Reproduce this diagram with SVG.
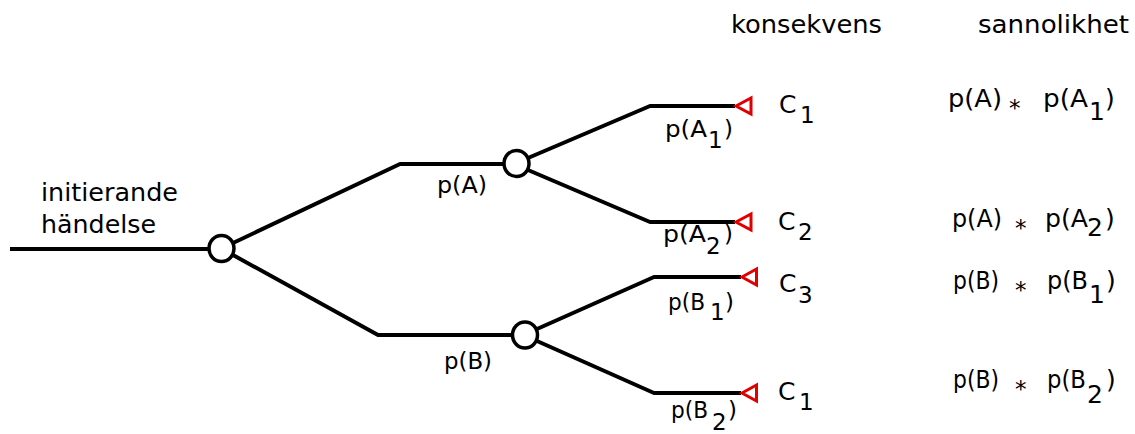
<svg xmlns="http://www.w3.org/2000/svg" width="1135" height="434" viewBox="0 0 1135 434">
  <style>
    .edge { fill: none; stroke: #000; stroke-width: 4; stroke-linejoin: round; }
    .node { fill: #fff; stroke: #000; stroke-width: 3.5; }
    .end { fill: #fff; stroke: #e00000; stroke-width: 3; stroke-linejoin: miter; }
    text { font-family: "DejaVu Sans", "Liberation Sans", sans-serif; fill: #000; }
    .hdr { font-size: 24px; }
    .lbl { font-size: 23px; }
    .res { font-size: 25px; }
    .cons { font-size: 25px; }
    .sub { font-size: 23px; }
    .star { font-size: 23px; }
  </style>

  <!-- column headings -->
  <g id="headings">
    <text class="hdr" x="731" y="33" textLength="151" lengthAdjust="spacingAndGlyphs">konsekvens</text>
    <text class="hdr" x="978" y="33" textLength="151" lengthAdjust="spacingAndGlyphs">sannolikhet</text>
  </g>

  <!-- branches of the event tree -->
  <g id="connectors">
    <polyline class="edge" points="10,249 209,249"/>
    <polyline class="edge" points="233,243 400,164 504,164"/>
    <polyline class="edge" points="233,255 378,335 512,335"/>
    <polyline class="edge" points="528,158 650,106 735,106"/>
    <polyline class="edge" points="528,170 650,222 735,222"/>
    <polyline class="edge" points="537,329 654,277 741,277"/>
    <polyline class="edge" points="537,341 654,393 741,393"/>
  </g>

  <!-- initiating event -->
  <g id="node-init">
    <text class="hdr" x="41" y="201" textLength="137" lengthAdjust="spacingAndGlyphs">initierande</text>
    <text class="hdr" x="41" y="233" textLength="115" lengthAdjust="spacingAndGlyphs">händelse</text>
    <ellipse class="node" cx="221.5" cy="248.5" rx="12.5" ry="13"/>
  </g>

  <!-- first branch point A -->
  <g id="node-A">
    <ellipse class="node" cx="516.5" cy="163.5" rx="12.5" ry="13"/>
    <text class="lbl" x="437" y="193" textLength="50" lengthAdjust="spacingAndGlyphs">p(A)</text>
  </g>

  <!-- first branch point B -->
  <g id="node-B">
    <ellipse class="node" cx="525" cy="335" rx="12.5" ry="13"/>
    <text class="lbl" x="444" y="369" textLength="48" lengthAdjust="spacingAndGlyphs">p(B)</text>
  </g>

  <!-- outcome A1 -->
  <g id="end-A1">
    <polygon class="end" points="736,106 751,98 751,114"/>
    <text class="lbl" x="665" y="137" textLength="42" lengthAdjust="spacingAndGlyphs">p(A</text>
    <text class="sub" x="708" y="148">1</text>
    <text class="lbl" x="724" y="137">)</text>
    <text class="cons" x="779" y="113">C</text>
    <text class="sub" x="800" y="123">1</text>
  </g>

  <!-- outcome A2 -->
  <g id="end-A2">
    <polygon class="end" points="736,222 751,214 751,230"/>
    <text class="lbl" x="663" y="242" textLength="43" lengthAdjust="spacingAndGlyphs">p(A</text>
    <text class="sub" x="706" y="254">2</text>
    <text class="lbl" x="724" y="242">)</text>
    <text class="cons" x="778" y="230">C</text>
    <text class="sub" x="798" y="240">2</text>
  </g>

  <!-- outcome B1 -->
  <g id="end-B1">
    <polygon class="end" points="742,277 756.5,269 756.5,285"/>
    <text class="lbl" x="668" y="310" textLength="37" lengthAdjust="spacingAndGlyphs">p(B</text>
    <text class="sub" x="710" y="320">1</text>
    <text class="lbl" x="725" y="310">)</text>
    <text class="cons" x="779" y="292">C</text>
    <text class="sub" x="798" y="303">3</text>
  </g>

  <!-- outcome B2 -->
  <g id="end-B2">
    <polygon class="end" points="742,393 756.5,385 756.5,401"/>
    <text class="lbl" x="671" y="418" textLength="37" lengthAdjust="spacingAndGlyphs">p(B</text>
    <text class="sub" x="712" y="430">2</text>
    <text class="lbl" x="728" y="418">)</text>
    <text class="cons" x="778" y="400">C</text>
    <text class="sub" x="799" y="410">1</text>
  </g>

  <!-- resulting probabilities -->
  <g id="prob-A1">
    <text class="res" x="948" y="107" textLength="54" lengthAdjust="spacingAndGlyphs">p(A)</text>
    <text class="star" x="1009" y="116">*</text>
    <text class="res" x="1043" y="107" textLength="45" lengthAdjust="spacingAndGlyphs">p(A</text>
    <text class="res" x="1089" y="120">1</text>
    <text class="res" x="1105" y="107">)</text>
  </g>
  <g id="prob-A2">
    <text class="res" x="952" y="227" textLength="50" lengthAdjust="spacingAndGlyphs">p(A)</text>
    <text class="star" x="1015" y="236">*</text>
    <text class="res" x="1045" y="227" textLength="43" lengthAdjust="spacingAndGlyphs">p(A</text>
    <text class="res" x="1087" y="236">2</text>
    <text class="res" x="1105" y="227">)</text>
  </g>
  <g id="prob-B1">
    <text class="res" x="953" y="289" textLength="46" lengthAdjust="spacingAndGlyphs">p(B)</text>
    <text class="star" x="1015" y="298">*</text>
    <text class="res" x="1047" y="289" textLength="41" lengthAdjust="spacingAndGlyphs">p(B</text>
    <text class="res" x="1089" y="303">1</text>
    <text class="res" x="1106" y="289">)</text>
  </g>
  <g id="prob-B2">
    <text class="res" x="953" y="388" textLength="46" lengthAdjust="spacingAndGlyphs">p(B)</text>
    <text class="star" x="1015" y="397">*</text>
    <text class="res" x="1047" y="388" textLength="39" lengthAdjust="spacingAndGlyphs">p(B</text>
    <text class="res" x="1087" y="403">2</text>
    <text class="res" x="1106" y="388">)</text>
  </g>
</svg>
